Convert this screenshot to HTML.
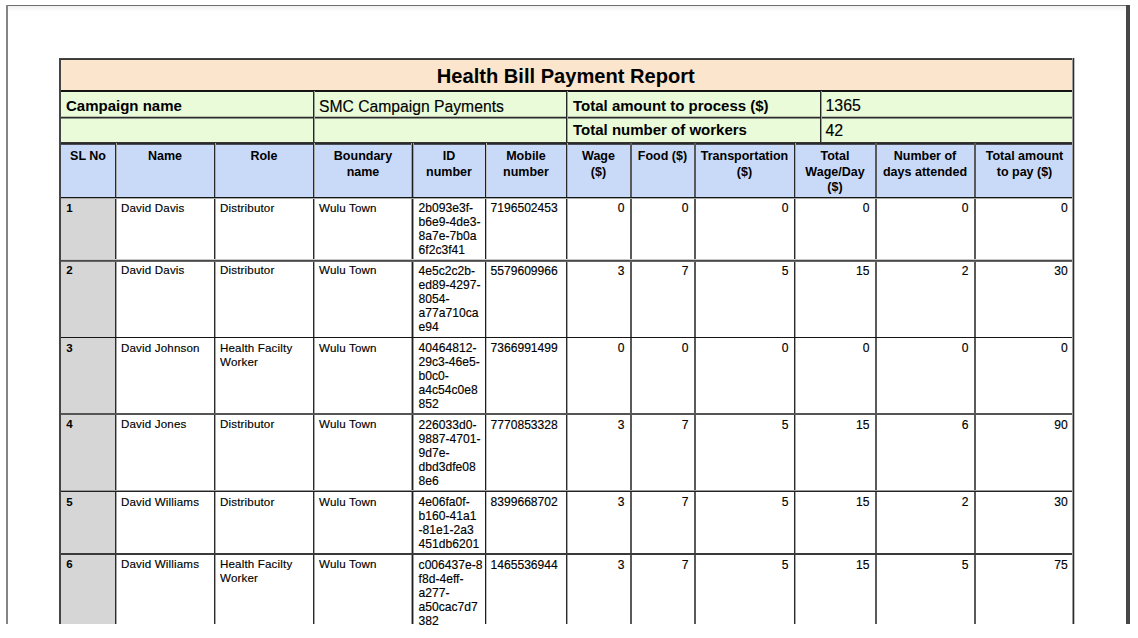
<!DOCTYPE html>
<html><head><meta charset="utf-8"><style>
html,body{margin:0;padding:0;background:#fff;}
body{width:1138px;height:638px;position:relative;overflow:hidden;font-family:"Liberation Sans",sans-serif;color:#000;}
#clip{position:absolute;left:0;top:0;width:1138px;height:625px;overflow:hidden;}
#clip div{position:absolute;}
.t{white-space:nowrap;}
.r{-webkit-text-stroke:0.15px #000;}
</style></head><body><div id="clip">
<div style="left:6px;top:5px;width:1124px;height:1px;background:#6e6e6e"></div>
<div style="left:6px;top:6px;width:1120px;height:6px;background:linear-gradient(#f0f0f0,#fff)"></div>
<div style="left:6px;top:5px;width:2px;height:619px;background:#858585"></div>
<div style="left:1126px;top:5px;width:4px;height:619px;background:#474747"></div>
<div style="left:59px;top:58px;width:1016px;height:33px;background:#fce5cd;"></div>
<div style="left:59px;top:91px;width:1016px;height:52px;background:#e9fbd9;"></div>
<div style="left:59px;top:143px;width:1016px;height:55px;background:#c9daf8;"></div>
<div style="left:59px;top:197px;width:1016px;height:427px;background:#fff;"></div>
<div style="left:59px;top:197px;width:57px;height:427px;background:#d6d6d6;"></div>
<div style="left:59px;top:58px;width:1016px;height:1px;background:#444;"></div>
<div style="left:59px;top:59px;width:1016px;height:1px;background:#3a3a3a;"></div>
<div style="left:59px;top:90px;width:1016px;height:1px;background:#111;"></div>
<div style="left:59px;top:91px;width:1016px;height:1px;background:#151515;"></div>
<div style="left:59px;top:116px;width:1016px;height:1px;background:#b8c4b0;"></div>
<div style="left:59px;top:117px;width:1016px;height:1px;background:#2a2a2a;"></div>
<div style="left:59px;top:118px;width:1016px;height:1px;background:#8a9285;"></div>
<div style="left:59px;top:142px;width:1016px;height:1px;background:#333;"></div>
<div style="left:59px;top:143px;width:1016px;height:1px;background:#2a2a2a;"></div>
<div style="left:59px;top:144px;width:1016px;height:1px;background:#4a4d55;"></div>
<div style="left:313px;top:91px;width:1px;height:51px;background:#262626;"></div>
<div style="left:314px;top:91px;width:1px;height:51px;background:#9aa393;"></div>
<div style="left:566px;top:91px;width:1px;height:51px;background:#262626;"></div>
<div style="left:567px;top:91px;width:1px;height:51px;background:#9aa393;"></div>
<div style="left:820px;top:91px;width:1px;height:51px;background:#262626;"></div>
<div style="left:821px;top:91px;width:1px;height:51px;background:#9aa393;"></div>
<div style="left:115px;top:143px;width:1px;height:481px;background:#2a2a2a;"></div>
<div style="left:116px;top:143px;width:1px;height:481px;background:#a8a8a8;"></div>
<div style="left:214px;top:143px;width:1px;height:481px;background:#2a2a2a;"></div>
<div style="left:215px;top:143px;width:1px;height:481px;background:#a8a8a8;"></div>
<div style="left:313px;top:143px;width:1px;height:481px;background:#2a2a2a;"></div>
<div style="left:314px;top:143px;width:1px;height:481px;background:#a8a8a8;"></div>
<div style="left:411px;top:143px;width:1px;height:481px;background:#a0a0a0;"></div>
<div style="left:412px;top:143px;width:1px;height:481px;background:#1e1e1e;"></div>
<div style="left:413px;top:143px;width:1px;height:481px;background:#a0a0a0;"></div>
<div style="left:485px;top:143px;width:1px;height:481px;background:#1e1e1e;"></div>
<div style="left:486px;top:143px;width:1px;height:481px;background:#c0c0c0;"></div>
<div style="left:566px;top:143px;width:1px;height:481px;background:#2a2a2a;"></div>
<div style="left:567px;top:143px;width:1px;height:481px;background:#a8a8a8;"></div>
<div style="left:630px;top:143px;width:1px;height:481px;background:#5a5a5a;"></div>
<div style="left:631px;top:143px;width:1px;height:481px;background:#5a5a5a;"></div>
<div style="left:694px;top:143px;width:1px;height:481px;background:#5a5a5a;"></div>
<div style="left:695px;top:143px;width:1px;height:481px;background:#5a5a5a;"></div>
<div style="left:794px;top:143px;width:1px;height:481px;background:#2a2a2a;"></div>
<div style="left:795px;top:143px;width:1px;height:481px;background:#a8a8a8;"></div>
<div style="left:875px;top:143px;width:1px;height:481px;background:#5a5a5a;"></div>
<div style="left:876px;top:143px;width:1px;height:481px;background:#5a5a5a;"></div>
<div style="left:974px;top:143px;width:1px;height:481px;background:#5a5a5a;"></div>
<div style="left:975px;top:143px;width:1px;height:481px;background:#5a5a5a;"></div>
<div style="left:59px;top:197px;width:1016px;height:1px;background:#151515;"></div>
<div style="left:59px;top:198px;width:1016px;height:1px;background:#a8a8a8;"></div>
<div style="left:59px;top:259px;width:1016px;height:1px;background:#c8c8c8;"></div>
<div style="left:59px;top:260px;width:1016px;height:1px;background:#4a4a4a;"></div>
<div style="left:59px;top:261px;width:1016px;height:1px;background:#666;"></div>
<div style="left:59px;top:337px;width:1016px;height:1px;background:#151515;"></div>
<div style="left:59px;top:413px;width:1016px;height:1px;background:#555;"></div>
<div style="left:59px;top:414px;width:1016px;height:1px;background:#555;"></div>
<div style="left:59px;top:490px;width:1016px;height:1px;background:#999;"></div>
<div style="left:59px;top:491px;width:1016px;height:1px;background:#222;"></div>
<div style="left:59px;top:553px;width:1016px;height:1px;background:#3a3a3a;"></div>
<div style="left:59px;top:554px;width:1016px;height:1px;background:#3a3a3a;"></div>
<div style="left:59px;top:58px;width:2px;height:566px;background:#454545;"></div>
<div style="left:1072px;top:58px;width:1px;height:566px;background:#9a9a9a;"></div>
<div style="left:1073px;top:58px;width:1px;height:566px;background:#2a2a2a;"></div>
<div style="left:1074px;top:58px;width:1px;height:566px;background:#c0c0c0;"></div>
<div class="t" style="left:57.80px;top:63.79px;font-size:20.1px;line-height:24px;font-weight:bold;width:1016.00px;text-align:center;">Health Bill Payment Report</div>
<div class="t" style="left:66.00px;top:96.50px;font-size:15px;line-height:18px;font-weight:bold;">Campaign name</div>
<div class="t r" style="left:319.00px;top:97.56px;font-size:15.7px;line-height:18px;">SMC Campaign Payments</div>
<div class="t" style="left:573.00px;top:96.50px;font-size:15px;line-height:18px;font-weight:bold;">Total amount to process ($)</div>
<div class="t" style="left:573.00px;top:121.20px;font-size:15px;line-height:18px;font-weight:bold;">Total number of workers</div>
<div class="t r" style="left:825.50px;top:97.49px;font-size:15.9px;line-height:18px;">1365</div>
<div class="t r" style="left:825.50px;top:121.69px;font-size:15.9px;line-height:18px;">42</div>
<div class="t" style="left:61.00px;top:148.92px;font-size:12.5px;line-height:15.7px;font-weight:bold;width:54.00px;text-align:center;">SL No</div>
<div class="t" style="left:116.00px;top:148.92px;font-size:12.5px;line-height:15.7px;font-weight:bold;width:98.00px;text-align:center;">Name</div>
<div class="t" style="left:215.00px;top:148.92px;font-size:12.5px;line-height:15.7px;font-weight:bold;width:98.00px;text-align:center;">Role</div>
<div class="t" style="left:314.00px;top:148.92px;font-size:12.5px;line-height:15.7px;font-weight:bold;width:98.00px;text-align:center;">Boundary<br>name</div>
<div class="t" style="left:413.00px;top:148.92px;font-size:12.5px;line-height:15.7px;font-weight:bold;width:72.00px;text-align:center;">ID<br>number</div>
<div class="t" style="left:486.00px;top:148.92px;font-size:12.5px;line-height:15.7px;font-weight:bold;width:80.00px;text-align:center;">Mobile<br>number</div>
<div class="t" style="left:567.00px;top:148.92px;font-size:12.5px;line-height:15.7px;font-weight:bold;width:63.00px;text-align:center;">Wage<br>($)</div>
<div class="t" style="left:631.00px;top:148.92px;font-size:12.5px;line-height:15.7px;font-weight:bold;width:63.00px;text-align:center;">Food ($)</div>
<div class="t" style="left:695.00px;top:148.92px;font-size:12.5px;line-height:15.7px;font-weight:bold;width:99.00px;text-align:center;">Transportation<br>($)</div>
<div class="t" style="left:795.00px;top:148.92px;font-size:12.5px;line-height:15.7px;font-weight:bold;width:80.00px;text-align:center;">Total<br>Wage/Day<br>($)</div>
<div class="t" style="left:876.00px;top:148.92px;font-size:12.5px;line-height:15.7px;font-weight:bold;width:98.00px;text-align:center;">Number of<br>days attended</div>
<div class="t" style="left:975.00px;top:148.92px;font-size:12.5px;line-height:15.7px;font-weight:bold;width:99.00px;text-align:center;">Total amount<br>to pay ($)</div>
<div class="t" style="left:66.20px;top:200.57px;font-size:11.5px;line-height:14.0px;font-weight:bold;">1</div>
<div class="t r" style="left:121.00px;top:200.53px;font-size:11.6px;line-height:14.0px;letter-spacing:0.15px;">David Davis</div>
<div class="t r" style="left:220.00px;top:200.53px;font-size:11.6px;line-height:14.0px;letter-spacing:0.15px;">Distributor</div>
<div class="t r" style="left:319.00px;top:200.53px;font-size:11.6px;line-height:14.0px;letter-spacing:0.15px;">Wulu Town</div>
<div class="t r" style="left:418.60px;top:201.26px;font-size:12.1px;line-height:14.0px;">2b093e3f-<br>b6e9-4de3-<br>8a7e-7b0a<br>6f2c3f41</div>
<div class="t r" style="left:490.50px;top:201.26px;font-size:12.1px;line-height:14.0px;">7196502453</div>
<div class="t r" style="left:564.50px;top:201.26px;font-size:12.1px;line-height:14.0px;width:60.00px;text-align:right;">0</div>
<div class="t r" style="left:628.50px;top:201.26px;font-size:12.1px;line-height:14.0px;width:60.00px;text-align:right;">0</div>
<div class="t r" style="left:728.50px;top:201.26px;font-size:12.1px;line-height:14.0px;width:60.00px;text-align:right;">0</div>
<div class="t r" style="left:809.50px;top:201.26px;font-size:12.1px;line-height:14.0px;width:60.00px;text-align:right;">0</div>
<div class="t r" style="left:908.50px;top:201.26px;font-size:12.1px;line-height:14.0px;width:60.00px;text-align:right;">0</div>
<div class="t r" style="left:1007.70px;top:201.26px;font-size:12.1px;line-height:14.0px;width:60.00px;text-align:right;">0</div>
<div class="t" style="left:66.20px;top:263.32px;font-size:11.5px;line-height:14.0px;font-weight:bold;">2</div>
<div class="t r" style="left:121.00px;top:263.28px;font-size:11.6px;line-height:14.0px;letter-spacing:0.15px;">David Davis</div>
<div class="t r" style="left:220.00px;top:263.28px;font-size:11.6px;line-height:14.0px;letter-spacing:0.15px;">Distributor</div>
<div class="t r" style="left:319.00px;top:263.28px;font-size:11.6px;line-height:14.0px;letter-spacing:0.15px;">Wulu Town</div>
<div class="t r" style="left:418.60px;top:264.01px;font-size:12.1px;line-height:14.0px;">4e5c2c2b-<br>ed89-4297-<br>8054-<br>a77a710ca<br>e94</div>
<div class="t r" style="left:490.50px;top:264.01px;font-size:12.1px;line-height:14.0px;">5579609966</div>
<div class="t r" style="left:564.50px;top:264.01px;font-size:12.1px;line-height:14.0px;width:60.00px;text-align:right;">3</div>
<div class="t r" style="left:628.50px;top:264.01px;font-size:12.1px;line-height:14.0px;width:60.00px;text-align:right;">7</div>
<div class="t r" style="left:728.50px;top:264.01px;font-size:12.1px;line-height:14.0px;width:60.00px;text-align:right;">5</div>
<div class="t r" style="left:809.50px;top:264.01px;font-size:12.1px;line-height:14.0px;width:60.00px;text-align:right;">15</div>
<div class="t r" style="left:908.50px;top:264.01px;font-size:12.1px;line-height:14.0px;width:60.00px;text-align:right;">2</div>
<div class="t r" style="left:1007.70px;top:264.01px;font-size:12.1px;line-height:14.0px;width:60.00px;text-align:right;">30</div>
<div class="t" style="left:66.20px;top:340.57px;font-size:11.5px;line-height:14.0px;font-weight:bold;">3</div>
<div class="t r" style="left:121.00px;top:340.53px;font-size:11.6px;line-height:14.0px;letter-spacing:0.15px;">David Johnson</div>
<div class="t r" style="left:220.00px;top:340.53px;font-size:11.6px;line-height:14.0px;letter-spacing:0.15px;">Health Facilty<br>Worker</div>
<div class="t r" style="left:319.00px;top:340.53px;font-size:11.6px;line-height:14.0px;letter-spacing:0.15px;">Wulu Town</div>
<div class="t r" style="left:418.60px;top:341.26px;font-size:12.1px;line-height:14.0px;">40464812-<br>29c3-46e5-<br>b0c0-<br>a4c54c0e8<br>852</div>
<div class="t r" style="left:490.50px;top:341.26px;font-size:12.1px;line-height:14.0px;">7366991499</div>
<div class="t r" style="left:564.50px;top:341.26px;font-size:12.1px;line-height:14.0px;width:60.00px;text-align:right;">0</div>
<div class="t r" style="left:628.50px;top:341.26px;font-size:12.1px;line-height:14.0px;width:60.00px;text-align:right;">0</div>
<div class="t r" style="left:728.50px;top:341.26px;font-size:12.1px;line-height:14.0px;width:60.00px;text-align:right;">0</div>
<div class="t r" style="left:809.50px;top:341.26px;font-size:12.1px;line-height:14.0px;width:60.00px;text-align:right;">0</div>
<div class="t r" style="left:908.50px;top:341.26px;font-size:12.1px;line-height:14.0px;width:60.00px;text-align:right;">0</div>
<div class="t r" style="left:1007.70px;top:341.26px;font-size:12.1px;line-height:14.0px;width:60.00px;text-align:right;">0</div>
<div class="t" style="left:66.20px;top:417.27px;font-size:11.5px;line-height:14.0px;font-weight:bold;">4</div>
<div class="t r" style="left:121.00px;top:417.23px;font-size:11.6px;line-height:14.0px;letter-spacing:0.15px;">David Jones</div>
<div class="t r" style="left:220.00px;top:417.23px;font-size:11.6px;line-height:14.0px;letter-spacing:0.15px;">Distributor</div>
<div class="t r" style="left:319.00px;top:417.23px;font-size:11.6px;line-height:14.0px;letter-spacing:0.15px;">Wulu Town</div>
<div class="t r" style="left:418.60px;top:417.96px;font-size:12.1px;line-height:14.0px;">226033d0-<br>9887-4701-<br>9d7e-<br>dbd3dfe08<br>8e6</div>
<div class="t r" style="left:490.50px;top:417.96px;font-size:12.1px;line-height:14.0px;">7770853328</div>
<div class="t r" style="left:564.50px;top:417.96px;font-size:12.1px;line-height:14.0px;width:60.00px;text-align:right;">3</div>
<div class="t r" style="left:628.50px;top:417.96px;font-size:12.1px;line-height:14.0px;width:60.00px;text-align:right;">7</div>
<div class="t r" style="left:728.50px;top:417.96px;font-size:12.1px;line-height:14.0px;width:60.00px;text-align:right;">5</div>
<div class="t r" style="left:809.50px;top:417.96px;font-size:12.1px;line-height:14.0px;width:60.00px;text-align:right;">15</div>
<div class="t r" style="left:908.50px;top:417.96px;font-size:12.1px;line-height:14.0px;width:60.00px;text-align:right;">6</div>
<div class="t r" style="left:1007.70px;top:417.96px;font-size:12.1px;line-height:14.0px;width:60.00px;text-align:right;">90</div>
<div class="t" style="left:66.20px;top:494.57px;font-size:11.5px;line-height:14.0px;font-weight:bold;">5</div>
<div class="t r" style="left:121.00px;top:494.53px;font-size:11.6px;line-height:14.0px;letter-spacing:0.15px;">David Williams</div>
<div class="t r" style="left:220.00px;top:494.53px;font-size:11.6px;line-height:14.0px;letter-spacing:0.15px;">Distributor</div>
<div class="t r" style="left:319.00px;top:494.53px;font-size:11.6px;line-height:14.0px;letter-spacing:0.15px;">Wulu Town</div>
<div class="t r" style="left:418.60px;top:495.26px;font-size:12.1px;line-height:14.0px;">4e06fa0f-<br>b160-41a1<br>-81e1-2a3<br>451db6201</div>
<div class="t r" style="left:490.50px;top:495.26px;font-size:12.1px;line-height:14.0px;">8399668702</div>
<div class="t r" style="left:564.50px;top:495.26px;font-size:12.1px;line-height:14.0px;width:60.00px;text-align:right;">3</div>
<div class="t r" style="left:628.50px;top:495.26px;font-size:12.1px;line-height:14.0px;width:60.00px;text-align:right;">7</div>
<div class="t r" style="left:728.50px;top:495.26px;font-size:12.1px;line-height:14.0px;width:60.00px;text-align:right;">5</div>
<div class="t r" style="left:809.50px;top:495.26px;font-size:12.1px;line-height:14.0px;width:60.00px;text-align:right;">15</div>
<div class="t r" style="left:908.50px;top:495.26px;font-size:12.1px;line-height:14.0px;width:60.00px;text-align:right;">2</div>
<div class="t r" style="left:1007.70px;top:495.26px;font-size:12.1px;line-height:14.0px;width:60.00px;text-align:right;">30</div>
<div class="t" style="left:66.20px;top:557.32px;font-size:11.5px;line-height:14.0px;font-weight:bold;">6</div>
<div class="t r" style="left:121.00px;top:557.28px;font-size:11.6px;line-height:14.0px;letter-spacing:0.15px;">David Williams</div>
<div class="t r" style="left:220.00px;top:557.28px;font-size:11.6px;line-height:14.0px;letter-spacing:0.15px;">Health Facilty<br>Worker</div>
<div class="t r" style="left:319.00px;top:557.28px;font-size:11.6px;line-height:14.0px;letter-spacing:0.15px;">Wulu Town</div>
<div class="t r" style="left:418.60px;top:558.01px;font-size:12.1px;line-height:14.0px;">c006437e-8<br>f8d-4eff-<br>a277-<br>a50cac7d7<br>382</div>
<div class="t r" style="left:490.50px;top:558.01px;font-size:12.1px;line-height:14.0px;">1465536944</div>
<div class="t r" style="left:564.50px;top:558.01px;font-size:12.1px;line-height:14.0px;width:60.00px;text-align:right;">3</div>
<div class="t r" style="left:628.50px;top:558.01px;font-size:12.1px;line-height:14.0px;width:60.00px;text-align:right;">7</div>
<div class="t r" style="left:728.50px;top:558.01px;font-size:12.1px;line-height:14.0px;width:60.00px;text-align:right;">5</div>
<div class="t r" style="left:809.50px;top:558.01px;font-size:12.1px;line-height:14.0px;width:60.00px;text-align:right;">15</div>
<div class="t r" style="left:908.50px;top:558.01px;font-size:12.1px;line-height:14.0px;width:60.00px;text-align:right;">5</div>
<div class="t r" style="left:1007.70px;top:558.01px;font-size:12.1px;line-height:14.0px;width:60.00px;text-align:right;">75</div>
</div></body></html>
